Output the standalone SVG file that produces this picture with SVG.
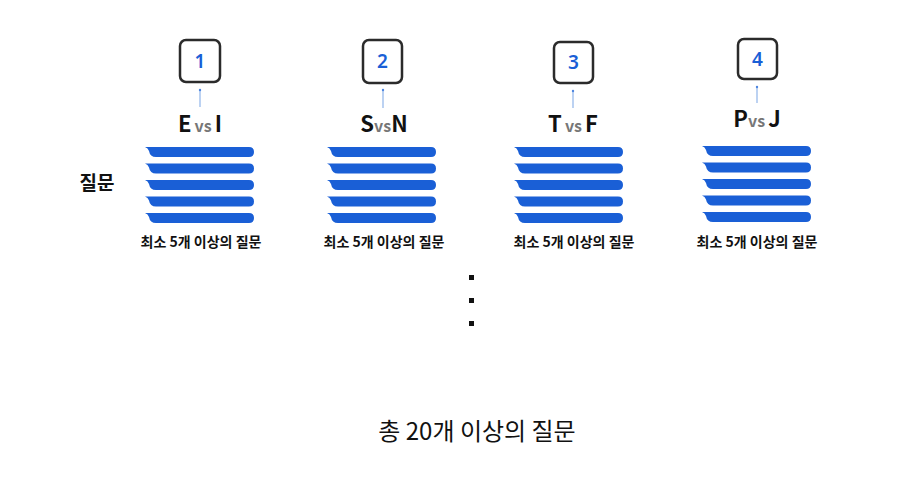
<svg xmlns="http://www.w3.org/2000/svg" width="921" height="500" viewBox="0 0 921 500">
<defs>
<style>
.t{font-family:"Noto Sans CJK KR","Noto Sans",sans-serif;fill:#111}
.box{fill:#fff;stroke:#2b2b2b;stroke-width:2.5}
.num{font-family:"Noto Sans","Noto Sans CJK KR",sans-serif;font-size:19px;font-weight:600;fill:#1a5fd6;text-anchor:middle}
.big{font-size:22px;font-weight:700;fill:#111}
.vs{font-size:16px;font-weight:700;fill:#777}
.lbl{font-size:14px;font-weight:700;text-anchor:middle}
.bar{fill:#1a5fd6}
.conn{stroke:#8fb4ea;stroke-width:1.2;fill:none}
.tip{fill:#4d86e0}
</style>
<path id="b" d="M-3,0 L101,0 Q106,0 106,5 Q106,10 101,10 L8,10 Q2,10 1,4 Q0,1 -3,0 Z"/>
<g id="bars">
<use href="#b" class="bar" y="0"/>
<use href="#b" class="bar" y="16.5"/>
<use href="#b" class="bar" y="33"/>
<use href="#b" class="bar" y="49.5"/>
<use href="#b" class="bar" y="66"/>
</g>
</defs>
<rect width="921" height="500" fill="#fff"/>

<g id="connectors">
<line class="conn" x1="200" y1="90" x2="200" y2="107"/><circle class="tip" cx="200" cy="90" r="1.2"/>
<line class="conn" x1="383" y1="90" x2="383" y2="108"/><circle class="tip" cx="383" cy="90" r="1.2"/>
<line class="conn" x1="573" y1="91" x2="573" y2="108"/><circle class="tip" cx="573" cy="91" r="1.2"/>
<line class="conn" x1="757" y1="87" x2="757" y2="103"/><circle class="tip" cx="757" cy="87" r="1.2"/>
</g>

<g id="node1">
<rect class="box" x="180" y="40" width="40" height="42" rx="6"/>
<text class="num" x="200" y="68">1</text>
<text class="t" x="200" y="132" text-anchor="middle"><tspan class="big">E</tspan><tspan class="vs" dx="3">vs</tspan><tspan class="big" dx="3">I</tspan></text>
<use href="#bars" x="148" y="147"/>
<text class="t lbl" x="201" y="247">최소 5개 이상의 질문</text>
</g>

<g id="node2">
<rect class="box" x="363" y="40" width="39" height="43" rx="6"/>
<text class="num" x="382.5" y="68">2</text>
<text class="t" x="384" y="132" text-anchor="middle"><tspan class="big">S</tspan><tspan class="vs">vs</tspan><tspan class="big">N</tspan></text>
<use href="#bars" x="330" y="147"/>
<text class="t lbl" x="384" y="247">최소 5개 이상의 질문</text>
</g>

<g id="node3">
<rect class="box" x="554" y="42" width="39" height="41" rx="6"/>
<text class="num" x="573.5" y="69">3</text>
<text class="t" x="573" y="132" text-anchor="middle"><tspan class="big">T</tspan><tspan class="vs" dx="3">vs</tspan><tspan class="big" dx="3">F</tspan></text>
<use href="#bars" x="517" y="147"/>
<text class="t lbl" x="574" y="247">최소 5개 이상의 질문</text>
</g>

<g id="node4">
<rect class="box" x="738" y="39" width="39" height="40" rx="6"/>
<text class="num" x="757.5" y="66">4</text>
<text class="t" x="757" y="127" text-anchor="middle"><tspan class="big">P</tspan><tspan class="vs">vs</tspan><tspan class="big" dx="3">J</tspan></text>
<use href="#bars" x="705" y="146"/>
<text class="t lbl" x="757" y="247">최소 5개 이상의 질문</text>
</g>

<g id="side-label">
<text class="t" x="97" y="190" font-size="19" font-weight="700" text-anchor="middle">질문</text>
</g>

<g id="ellipsis" fill="#111">
<rect x="469" y="275" width="5" height="5"/>
<rect x="469" y="298" width="5" height="5"/>
<rect x="469" y="321" width="5" height="5"/>
</g>

<g id="total">
<text class="t" x="477" y="440" font-size="24" text-anchor="middle">총 20개 이상의 질문</text>
</g>
</svg>
